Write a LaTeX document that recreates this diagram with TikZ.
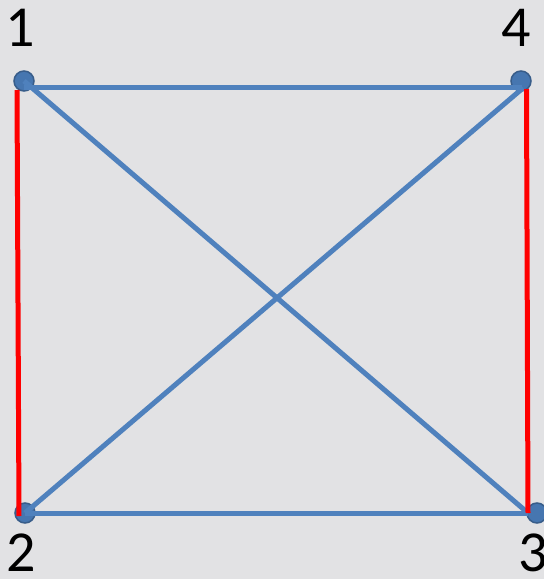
\documentclass[tikz,border=0pt]{standalone}
\usepackage{fontspec}
\setmainfont{Carlito}
\definecolor{edgeblue}{RGB}{79,129,189}
\definecolor{dotblue}{RGB}{70,118,176}
\definecolor{dotrim}{RGB}{56,93,138}
\definecolor{marble}{RGB}{226,226,228}
\begin{document}
\begin{tikzpicture}[x=1pt,y=-1pt,
  dot/.style={circle,fill=dotblue,draw=dotrim,line width=1.5pt,minimum size=20pt,inner sep=0pt},
  lbl/.style={font=\fontsize{58}{58}\selectfont,inner sep=0pt,text=black},
  blueedge/.style={draw=edgeblue,line width=5pt},
  rededge/.style={draw=red,line width=5pt}]
\fill[marble] (0,0) rectangle (544,579);
\useasboundingbox (0,0) rectangle (544,579);
% vertices
\node[dot] (p1) at (24,81) {};
\node[dot] (p4) at (521,81) {};
\node[dot] (p2) at (25,513) {};
\node[dot] (p3) at (537,513) {};
% labels
\node[lbl] (l1) at (20,28) {1};
\node[lbl] (l4) at (516,28) {4};
\node[lbl] (l2) at (21,553) {2};
\node[lbl] (l3) at (533,553) {3};
% connector end points
\coordinate (t1) at (24,87);
\coordinate (t4) at (522,87);
\coordinate (d3) at (528,513);
\coordinate (d4) at (523,88);
\coordinate (r1a) at (17,90);
\coordinate (r1b) at (19,516);
\coordinate (r4a) at (526.5,89);
\coordinate (r4b) at (528,513);
% edges
\draw[blueedge] (t1) -- (t4);
\draw[blueedge] (p1.center) -- (d3);
\draw[blueedge] (d4) -- (p2.center);
\draw[blueedge] (p2.center) -- (d3);
\draw[rededge] (r1a) -- (r1b);
\draw[rededge] (r4a) -- (r4b);
\end{tikzpicture}
\end{document}
